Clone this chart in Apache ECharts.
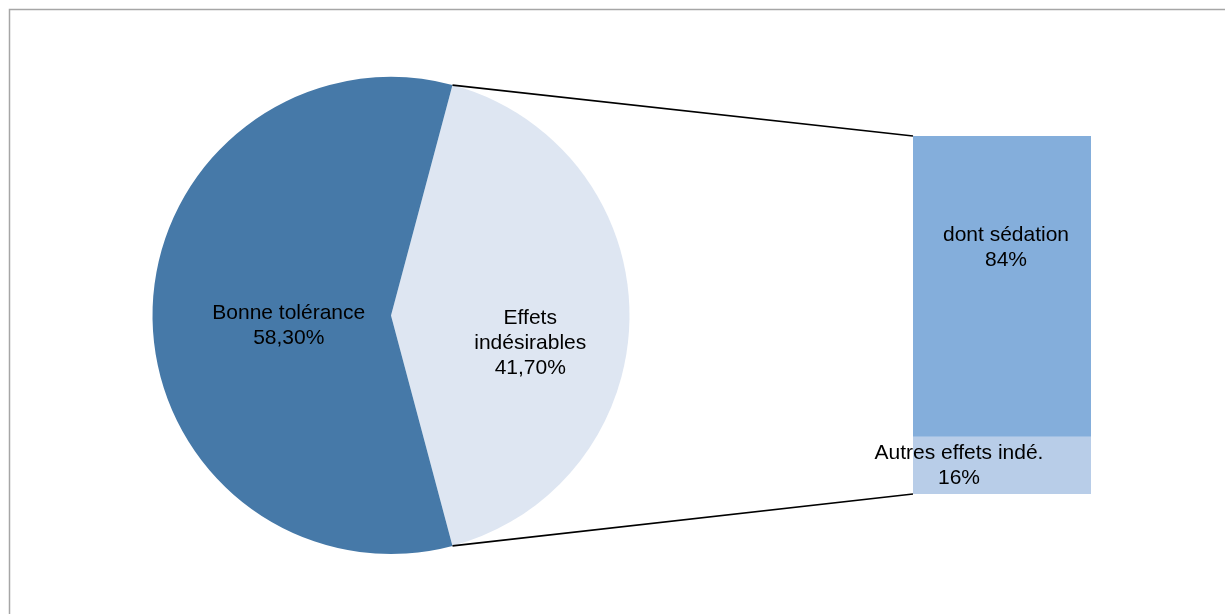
<!DOCTYPE html>
<html>
<head>
<meta charset="utf-8">
<script src="https://cdn.jsdelivr.net/npm/echarts@6/dist/echarts.min.js"></script>
<style>
  html, body { margin: 0; padding: 0; background: #fff; }
  #chart { width: 1225px; height: 614px; }
</style>
</head>
<body>
<div id="chart"></div>
<script>
// Pie: overall tolerance
const pieNames = ['Effets indésirables', 'Bonne tolérance'];
const pieLabels = ['Effets\nindésirables', 'Bonne tolérance'];
const pieValues = [41.7, 58.3];

// Bar: breakdown of the side effects
const barNames = ['Autres effets indé.', 'dont sédation'];
const barValues = [16, 84];

const FONT = '"Liberation Sans", Arial, sans-serif';
const pieColors = ['#DEE6F2', '#4679A8'];
const barColors = ['#B8CDE8', '#84AEDB'];

const fmtPct = (v, d) => v.toFixed(d).replace('.', ',') + '%';

const chart = echarts.init(document.getElementById('chart'), null, { renderer: 'canvas' });

const pieCenter = [391, 315.5];
const pieRadius = 238.5;
// centre the side-effects slice on the right-hand horizontal
const startAngle = pieValues[0] * 3.6 / 2;

const labelShift = [[17, 28], [20, 10]];
const barLabelShift = [[-43, 0], [4, -38.5]];

chart.setOption({
  animation: false,
  backgroundColor: '#ffffff',
  grid: { left: 913, top: 136, width: 178, height: 358 },
  xAxis: { type: 'category', data: ['Effets'], show: false },
  yAxis: { type: 'value', min: 0, max: 100, show: false },
  graphic: [
    {
      type: 'rect', silent: true, z: 0,
      shape: { x: 9.5, y: 9.5, width: 1400, height: 800 },
      style: { fill: null, stroke: '#A6A6A6', lineWidth: 1.5 }
    }
  ],
  series: [
    {
      type: 'pie',
      silent: true,
      center: pieCenter,
      radius: pieRadius,
      startAngle: startAngle,
      clockwise: true,
      avoidLabelOverlap: false,
      label: {
        show: true,
        position: 'inner',
        fontFamily: FONT,
        fontSize: 21,
        lineHeight: 25,
        color: '#000',
        align: 'center',
        formatter: p => pieLabels[p.dataIndex] + '\n' + fmtPct(p.value, 2)
      },
      labelLine: { show: false },
      labelLayout: p => ({ dx: labelShift[p.dataIndex][0], dy: labelShift[p.dataIndex][1] }),
      data: pieValues.map((v, i) => ({
        name: pieNames[i], value: v, itemStyle: { color: pieColors[i] }
      }))
    },
    ...barValues.map((v, i) => ({
      type: 'bar',
      name: barNames[i],
      stack: 'effets',
      silent: true,
      barWidth: '100%',
      data: [v],
      itemStyle: { color: barColors[i] },
      label: {
        show: true,
        position: 'inside',
        fontFamily: FONT,
        fontSize: 21,
        lineHeight: 25,
        color: '#000',
        align: 'center',
        offset: barLabelShift[i],
        formatter: p => barNames[i] + '\n' + fmtPct(p.value, 0)
      },
      z: 3
    }))
  ]
});

// Connector lines from the pie slice edges to the bar corners
const rad = startAngle * Math.PI / 180;
const pTop = [pieCenter[0] + pieRadius * Math.cos(rad), pieCenter[1] - pieRadius * Math.sin(rad)];
const pBot = [pieCenter[0] + pieRadius * Math.cos(rad), pieCenter[1] + pieRadius * Math.sin(rad)];
const topLayout = chart.getModel().getSeriesByIndex(2).getData().getItemLayout(0);
const botLayout = chart.getModel().getSeriesByIndex(1).getData().getItemLayout(0);
const barLeft = Math.min(topLayout.x, topLayout.x + topLayout.width);
const barTop = Math.min(topLayout.y, topLayout.y + topLayout.height);
const barBottom = Math.max(botLayout.y, botLayout.y + botLayout.height);

const zr = chart.getZr();
[[pTop, [barLeft, barTop]], [pBot, [barLeft, barBottom]]].forEach(([a, b]) => {
  zr.add(new echarts.graphic.Line({
    silent: true,
    z: 10,
    shape: { x1: a[0], y1: a[1], x2: b[0], y2: b[1] },
    style: { stroke: '#000', lineWidth: 1.75 }
  }));
});
</script>
</body>
</html>
